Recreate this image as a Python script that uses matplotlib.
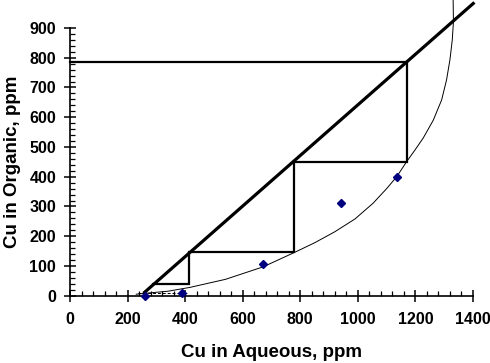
import matplotlib
matplotlib.use("Agg")
import matplotlib.pyplot as plt
from matplotlib.ticker import MultipleLocator

# operating line (ends)
op_x = [255, 1405]
op_y = [8, 986]

# stage steps (McCabe-Thiele staircase)
step_x = [0, 1170, 1170, 779, 779, 413, 413, 290]
step_y = [785, 785, 450, 450, 146, 146, 38, 38]

# equilibrium curve
eq_x = [230, 260, 340, 417, 540, 671, 781, 850, 920, 990, 1053, 1100, 1135,
        1169, 1200, 1227, 1262, 1291, 1308, 1320, 1328, 1332, 1331]
eq_y = [5, 8, 15, 28, 55, 97, 146, 178, 215, 258, 311, 360, 400,
        450, 492, 530, 590, 658, 725, 794, 860, 920, 994]

# small dashed piece at the bottom
low_x = [235, 405]
low_y = [10, 10]

# measured points
pts_x = [260, 388, 672, 941, 1135]
pts_y = [0, 10, 106, 310, 400]

plt.rcParams['font.family'] = ['Liberation Sans', 'DejaVu Sans']

fig = plt.figure(figsize=(4.9, 3.63), dpi=100)
ax = fig.add_axes([0.1429, 0.1854, 0.8224, 0.7375])

ax.plot(eq_x, eq_y, color='black', lw=0.7, clip_on=False)
ax.plot(low_x, low_y, color='black', lw=0.7, ls=(0, (3, 2)), clip_on=False)
ax.plot(step_x, step_y, color='black', lw=1.6, clip_on=False, solid_joinstyle='miter')
ax.plot(op_x, op_y, color='black', lw=2.3, clip_on=False, solid_capstyle='butt')
ax.plot(pts_x, pts_y, ls='none', marker='D', ms=4.5, color='#000080', clip_on=False, zorder=5)

ax.set_xlim(0, 1400)
ax.set_ylim(0, 900)
ax.xaxis.set_major_locator(MultipleLocator(200))
ax.xaxis.set_minor_locator(MultipleLocator(40))
ax.yaxis.set_major_locator(MultipleLocator(100))
ax.yaxis.set_minor_locator(MultipleLocator(20))

for s in ['top', 'right']:
    ax.spines[s].set_visible(False)
for s in ['left', 'bottom']:
    ax.spines[s].set_linewidth(1.2)

ax.tick_params(which='major', direction='inout', length=8, width=1.1, labelsize=11.5)
ax.tick_params(axis='x', which='major', pad=8)
ax.tick_params(axis='y', which='major', pad=6)
ax.tick_params(which='minor', direction='in', length=3.5, width=0.9)
for lab in ax.get_xticklabels() + ax.get_yticklabels():
    lab.set_fontweight('bold')

ax.set_xlabel('Cu in Aqueous, ppm', fontsize=13.5, fontweight='bold', labelpad=12)
ax.set_ylabel('Cu in Organic, ppm', fontsize=13.5, fontweight='bold', labelpad=6)

fig.savefig('out.png', dpi=100)
